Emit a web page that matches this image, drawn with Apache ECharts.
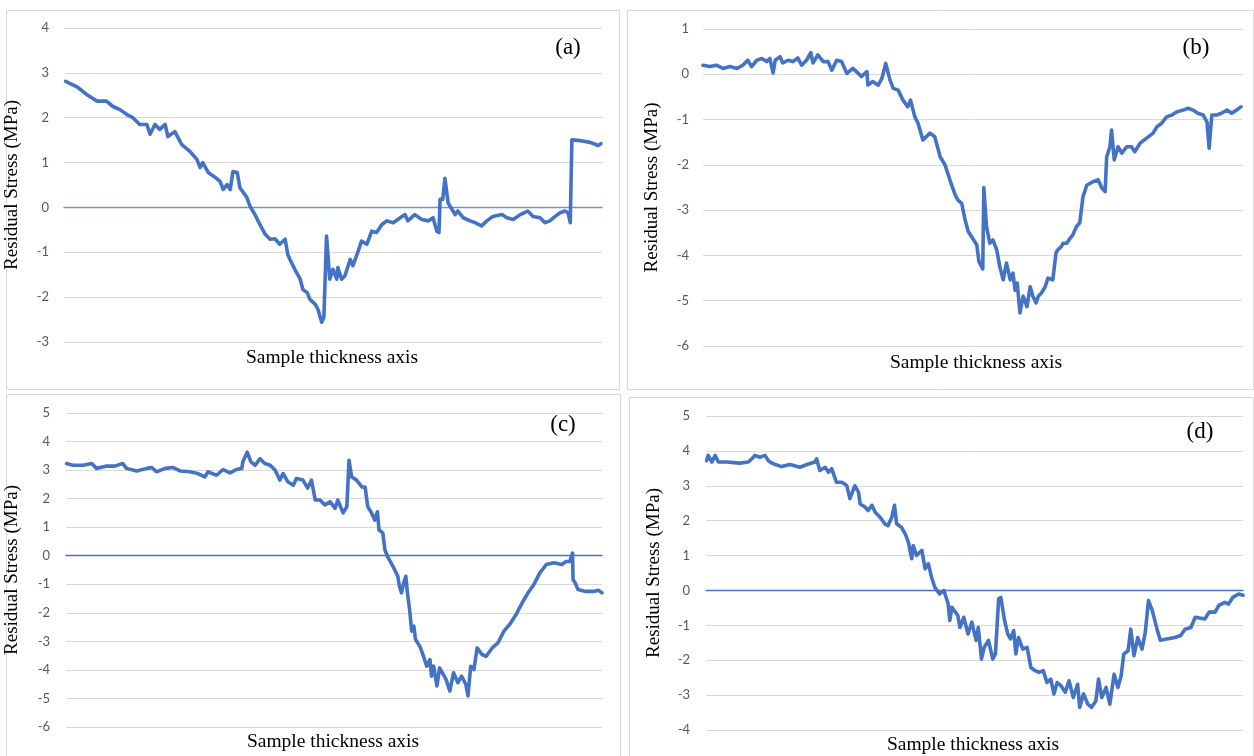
<!DOCTYPE html>
<html>
<head>
<meta charset="utf-8">
<script src="https://cdn.jsdelivr.net/npm/echarts@6/dist/echarts.min.js"></script>
<style>
  html, body { margin: 0; padding: 0; background: #ffffff; }
  #chart { width: 1254px; height: 756px; }
</style>
</head>
<body>
<div id="chart"></div>
<script>
// Residual stress profiles across the sample thickness, four specimens (a)-(d).
// Position is given as percent of the sample thickness, stress in MPa.

const posA = [0.3,2.4,4.2,6.1,7.9,9.1,10.4,11.7,12.8,14.1,15.4,16.0,16.9,17.8,18.8,19.3,20.6,21.9,23.4,24.7,25.3,25.8,26.8,28.1,29.0,29.6,30.3,30.9,31.4,32.2,32.7,34.0,34.6,35.5,36.4,37.4,38.3,39.2,40.1,41.1,41.6,42.0,42.9,43.9,44.4,45.2,45.7,46.7,47.2,47.9,48.3,48.8,49.4,50.0,50.7,50.9,51.6,52.2,53.2,53.7,54.6,55.3,56.3,57.2,58.1,59.1,60.0,61.2,62.5,63.4,63.9,65.2,66.5,67.7,68.6,69.3,69.7,69.9,70.4,70.8,71.4,72.1,72.7,73.2,74.2,75.5,76.4,77.6,78.6,79.7,81.4,82.3,83.5,84.8,86.2,87.2,88.5,89.4,90.3,91.3,92.2,93.1,93.7,94.1,94.4,95.9,97.8,99.3,99.8];
const stressA = [2.81,2.69,2.52,2.37,2.37,2.25,2.18,2.07,2.0,1.85,1.85,1.63,1.85,1.74,1.85,1.58,1.69,1.4,1.25,1.07,0.89,1.0,0.78,0.67,0.58,0.4,0.51,0.4,0.8,0.78,0.44,0.22,0.02,-0.16,-0.38,-0.6,-0.71,-0.7,-0.82,-0.71,-1.05,-1.16,-1.38,-1.6,-1.83,-1.9,-2.05,-2.16,-2.27,-2.56,-2.45,-0.64,-1.6,-1.38,-1.6,-1.34,-1.6,-1.53,-1.16,-1.3,-1.0,-0.75,-0.82,-0.53,-0.56,-0.38,-0.3,-0.34,-0.23,-0.16,-0.3,-0.16,-0.27,-0.3,-0.23,-0.53,-0.56,0.18,0.18,0.65,0.1,-0.04,-0.16,-0.08,-0.23,-0.3,-0.34,-0.41,-0.3,-0.2,-0.16,-0.23,-0.27,-0.16,-0.08,-0.2,-0.23,-0.34,-0.3,-0.2,-0.12,-0.08,-0.12,-0.34,1.51,1.49,1.45,1.38,1.42];

const posB = [0,1.3,2.5,3.7,5.0,6.3,6.5,7.4,8.3,9.0,10.0,10.9,11.8,12.4,13.0,13.4,14.3,14.8,15.8,16.7,17.6,18.3,19.2,20.0,20.4,21.3,22.3,23.2,23.9,24.8,25.7,26.7,27.8,28.8,29.4,30.4,30.6,31.5,32.5,33.2,33.9,34.7,35.3,36.2,37.1,38.0,38.5,39.3,39.9,40.8,42.1,43.0,44.0,44.9,45.8,46.8,47.3,48.0,48.6,49.2,49.9,50.8,51.2,51.9,52.1,52.6,53.2,53.8,54.5,55.1,55.7,56.3,57.0,57.5,57.9,58.3,58.8,59.4,60.1,60.7,61.2,61.8,62.2,62.8,63.5,64.0,64.9,65.5,65.8,66.5,66.8,67.5,68.1,68.6,69.3,69.9,70.5,71.2,72.4,73.3,74.0,74.6,74.9,75.5,75.8,76.3,77.0,77.7,78.6,79.5,80.1,81.1,82.3,83.5,84.2,85.1,86.0,87.0,87.9,89.1,90.0,90.9,91.8,92.8,93.5,93.9,94.4,95.3,96.2,97.2,98.1,99.0,99.8];
const stressB = [0.2,0.17,0.2,0.13,0.17,0.13,0.1,0.2,0.31,0.17,0.31,0.35,0.28,0.35,0.03,0.31,0.39,0.25,0.31,0.28,0.36,0.2,0.31,0.48,0.25,0.43,0.28,0.28,0.09,0.31,0.28,0.02,0.13,0.02,-0.05,0.06,-0.24,-0.16,-0.24,-0.09,0.24,-0.13,-0.31,-0.35,-0.57,-0.72,-0.57,-0.94,-1.08,-1.45,-1.3,-1.38,-1.82,-2.0,-2.33,-2.67,-2.78,-2.85,-3.2,-3.47,-3.6,-3.77,-4.14,-4.3,-2.5,-3.36,-3.73,-3.66,-3.88,-4.27,-4.54,-4.17,-4.54,-4.39,-4.77,-4.61,-5.27,-4.9,-5.13,-4.69,-4.9,-5.05,-4.9,-4.83,-4.69,-4.5,-4.54,-3.94,-3.88,-3.8,-3.73,-3.73,-3.62,-3.55,-3.36,-3.28,-2.7,-2.45,-2.37,-2.33,-2.51,-2.59,-1.82,-1.6,-1.23,-1.89,-1.6,-1.74,-1.6,-1.6,-1.71,-1.52,-1.41,-1.3,-1.16,-1.08,-0.94,-0.9,-0.83,-0.79,-0.75,-0.79,-0.86,-0.9,-1.05,-1.63,-0.9,-0.9,-0.86,-0.79,-0.86,-0.79,-0.72];

const posC = [0.1,1.3,3.2,4.8,5.7,7.6,9.1,10.6,11.3,13.2,15.1,16.0,16.9,18.5,20.0,21.3,23.1,24.6,25.9,26.5,28.1,29.3,30.6,31.8,32.8,33.0,33.8,34.5,35.3,36.2,37.1,38.1,39.0,39.9,40.5,41.4,42.4,43.0,44.2,45.1,45.8,46.5,47.4,48.3,49.3,50.2,50.7,51.7,52.4,52.8,53.3,54.2,55.2,55.8,56.3,57.0,57.6,58.1,58.4,59.1,59.5,60.1,61.0,61.9,62.2,62.6,63.0,63.4,63.7,64.1,64.5,64.9,65.2,66.0,66.7,67.3,67.9,68.2,68.6,69.2,69.7,70.9,71.6,72.3,73.1,73.8,74.6,75.0,75.5,76.1,76.7,77.6,78.4,79.5,80.6,81.7,82.8,84.0,85.1,86.2,87.3,88.4,89.6,91.0,92.5,93.3,94.0,94.5,94.6,95.0,95.5,97.0,98.5,99.3,100];
const stressC = [3.23,3.17,3.17,3.23,3.06,3.14,3.14,3.23,3.06,2.97,3.06,3.09,2.94,3.06,3.09,2.97,2.94,2.88,2.76,2.94,2.82,3.02,2.9,3.02,3.06,3.29,3.63,3.29,3.17,3.4,3.23,3.17,3.0,2.65,2.88,2.59,2.47,2.71,2.65,2.37,2.65,1.95,1.95,1.78,1.89,1.66,1.95,1.5,1.72,3.34,2.76,2.65,2.41,2.41,1.72,1.5,1.25,1.54,0.9,0.8,0.2,-0.07,-0.37,-0.72,-1.07,-1.3,-0.95,-0.72,-1.3,-1.88,-2.64,-2.47,-2.93,-3.17,-3.52,-3.87,-3.64,-4.22,-3.87,-4.56,-3.93,-4.33,-4.74,-4.1,-4.45,-4.22,-4.51,-4.91,-3.87,-3.99,-3.23,-3.46,-3.52,-3.23,-3.05,-2.64,-2.4,-2.05,-1.65,-1.3,-1.01,-0.6,-0.31,-0.25,-0.31,-0.2,-0.2,0.09,-0.84,-0.95,-1.18,-1.25,-1.25,-1.21,-1.3];

const posD = [0.1,0.4,1.1,1.7,2.3,3.9,6.3,7.9,8.5,9.1,10.1,11.0,11.6,12.5,14.1,15.6,17.5,18.8,20.3,20.6,21.2,22.2,22.8,23.4,24.3,25.3,26.2,26.8,27.7,28.4,28.7,29.6,30.2,30.9,31.5,32.4,33.3,33.9,34.6,35.1,35.5,36.4,37.1,37.7,38.3,38.6,39.2,40.2,40.8,41.4,42.0,42.6,43.5,44.3,45.1,45.4,45.8,46.9,47.3,48.0,48.8,49.5,50.3,50.7,51.3,51.8,52.6,53.4,53.9,54.5,54.9,55.6,56.2,56.7,57.3,57.7,58.2,59.0,59.8,60.5,61.3,62.0,62.8,63.5,64.2,64.8,65.4,66.1,66.9,67.6,68.4,69.2,69.6,70.3,71.1,71.8,72.6,73.1,73.7,74.5,75.2,76.0,76.7,77.3,77.8,78.6,79.1,79.7,80.4,81.2,81.8,82.4,83.1,83.9,84.6,85.8,87.3,88.4,89.2,90.3,91.1,92.9,93.7,94.8,95.5,96.6,97.3,98.1,99.2,100];
const stressD = [3.72,3.87,3.68,3.87,3.68,3.68,3.65,3.68,3.77,3.87,3.82,3.87,3.72,3.63,3.55,3.61,3.53,3.61,3.68,3.77,3.44,3.53,3.39,3.49,3.1,3.1,3.01,2.63,3.0,2.82,2.48,2.39,2.29,2.44,2.24,2.1,1.91,1.86,2.1,2.44,1.91,1.81,1.62,1.38,0.91,1.29,1.0,1.15,0.62,0.77,0.38,0.09,-0.1,0.0,-0.39,-0.86,-0.48,-0.72,-1.06,-0.77,-1.25,-0.91,-1.43,-1.06,-1.97,-1.63,-1.43,-1.97,-1.82,-0.24,-0.2,-0.86,-1.25,-1.39,-1.15,-1.82,-1.35,-1.68,-1.63,-2.21,-2.3,-2.35,-2.3,-2.64,-2.54,-2.97,-2.64,-2.73,-2.92,-2.59,-3.07,-2.69,-3.35,-2.97,-3.26,-3.35,-3.17,-2.54,-3.07,-2.78,-3.26,-2.4,-2.78,-2.45,-1.82,-1.73,-1.11,-1.87,-1.35,-1.68,-1.2,-0.29,-0.57,-1.06,-1.43,-1.39,-1.35,-1.29,-1.11,-1.06,-0.77,-0.82,-0.62,-0.62,-0.43,-0.34,-0.39,-0.2,-0.1,-0.14];

// Stress axis range per panel [min, max] in MPa (ticks every 1 MPa)
const yRangeA = [-3, 4];
const yRangeB = [-6, 1];
const yRangeC = [-6, 5];
const yRangeD = [-4, 5];

const panelLabels = ['(a)', '(b)', '(c)', '(d)'];
const xTitle = 'Sample thickness axis';
const yTitle = 'Residual Stress (MPa)';

const BLUE = '#4472C4';
const GRID_GRAY = '#d9d9d9';
const TICK_GRAY = '#595959';

// zeroLine: colour of the horizontal axis drawn through 0 MPa (null = not drawn)
const panels = [
  { pos: posA, val: stressA, range: yRangeA, grid: { left: 64, top: 28, width: 538, height: 314 }, nameGap: 42, lblMargin: 15, zeroLine: '#6f93d3' },
  { pos: posB, val: stressB, range: yRangeB, grid: { left: 703, top: 29, width: 539, height: 317 }, nameGap: 41, lblMargin: 14, zeroLine: null },
  { pos: posC, val: stressC, range: yRangeC, grid: { left: 66, top: 413, width: 536, height: 314 }, nameGap: 44, lblMargin: 16, zeroLine: BLUE },
  { pos: posD, val: stressD, range: yRangeD, grid: { left: 706, top: 416, width: 537, height: 314 }, nameGap: 42, lblMargin: 16, zeroLine: BLUE }
];

const grids = [], xAxes = [], yAxes = [], series = [];
panels.forEach((p, i) => {
  grids.push(Object.assign({ containLabel: false }, p.grid));
  xAxes.push({
    type: 'value', gridIndex: i, min: 0, max: 100,
    axisLine: { show: !!p.zeroLine, onZero: true, lineStyle: { color: p.zeroLine || BLUE, width: 1.3 } },
    axisTick: { show: false }, axisLabel: { show: false }, splitLine: { show: false }
  });
  yAxes.push({
    type: 'value', gridIndex: i, min: p.range[0], max: p.range[1], interval: 1,
    axisLine: { show: false }, axisTick: { show: false },
    axisLabel: { color: TICK_GRAY, fontFamily: 'Lato', fontSize: 13, margin: p.lblMargin },
    splitLine: { show: true, lineStyle: { color: GRID_GRAY, width: 1 } },
    name: yTitle, nameLocation: 'middle', nameGap: p.nameGap, nameRotate: 90,
    nameTextStyle: { fontFamily: 'Liberation Serif', fontSize: 19, color: '#000' }
  });
  series.push({
    type: 'line', xAxisIndex: i, yAxisIndex: i,
    data: p.pos.map((x, k) => [x, p.val[k]]),
    showSymbol: false, smooth: false,
    lineStyle: { color: BLUE, width: 3.6, join: 'round', cap: 'round' },
    z: 3
  });
});

// Panel frames, x-axis titles and panel letters
const frames = [
  { x: 6, y: 10, w: 613, h: 379 },
  { x: 627, y: 10, w: 626, h: 379 },
  { x: 6, y: 394, w: 614, h: 380 },
  { x: 629, y: 397, w: 624, h: 380 }
];
const graphic = [];
frames.forEach(f => graphic.push({
  type: 'rect', shape: { x: f.x + 0.5, y: f.y + 0.5, width: f.w, height: f.h },
  style: { fill: 'none', stroke: GRID_GRAY, lineWidth: 1 }, silent: true, z: 0
}));
const xTitlePos = [[332, 358], [976, 363], [333, 742], [973, 745]];
xTitlePos.forEach(pt => graphic.push({
  type: 'text', x: pt[0], y: pt[1],
  style: { text: xTitle, font: '19.5px "Liberation Serif"', fill: '#000', textAlign: 'center', textVerticalAlign: 'middle' }
}));
const letterPos = [[568, 48], [1196, 48], [563, 425], [1200, 432]];
letterPos.forEach((pt, i) => graphic.push({
  type: 'text', x: pt[0], y: pt[1],
  style: { text: panelLabels[i], font: '23px "Liberation Serif"', fill: '#000', textAlign: 'center', textVerticalAlign: 'middle' }
}));

const chart = echarts.init(document.getElementById('chart'), null, { renderer: 'canvas' });
chart.setOption({
  animation: false,
  backgroundColor: '#ffffff',
  grid: grids, xAxis: xAxes, yAxis: yAxes, series: series, graphic: graphic
});
</script>
</body>
</html>
